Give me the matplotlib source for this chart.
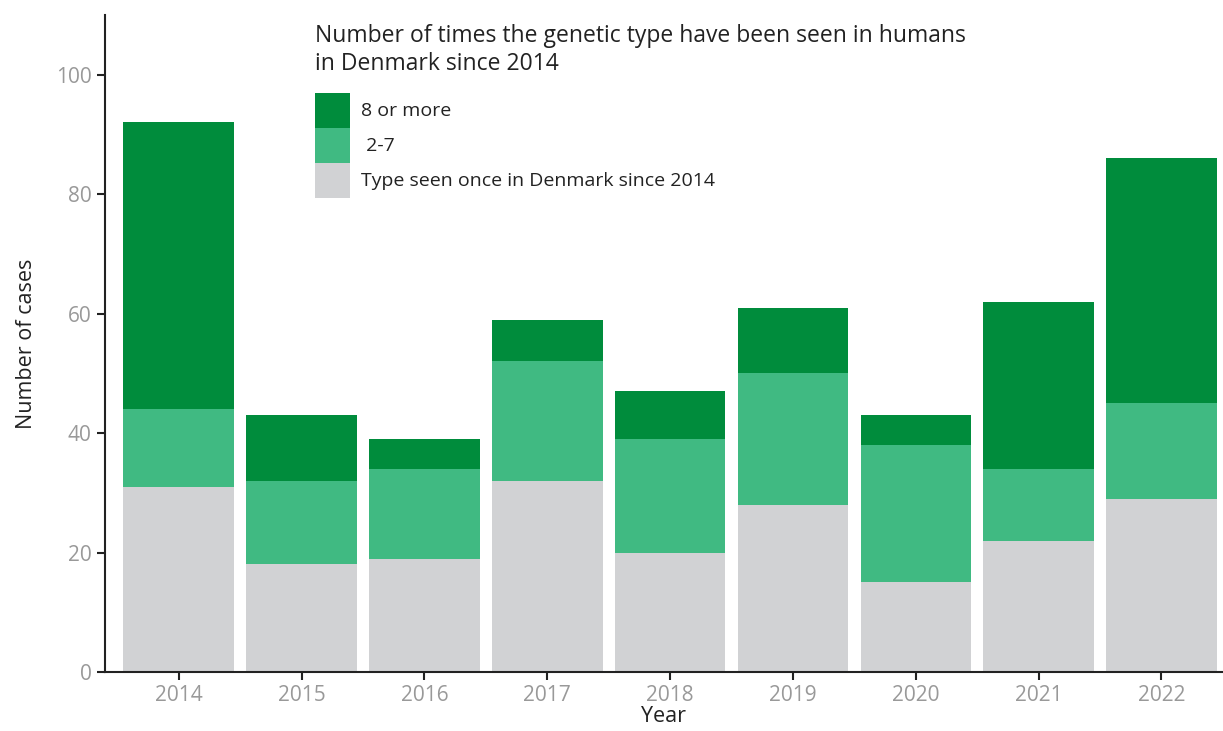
import matplotlib
matplotlib.use("Agg")
import matplotlib.pyplot as plt
import numpy as np

plt.rcParams['font.family'] = ['Open Sans', 'DejaVu Sans']

years = ['2014', '2015', '2016', '2017', '2018', '2019', '2020', '2021', '2022']
seen_once = [31, 18, 19, 32, 20, 28, 15, 22, 29]
seen_2_7 = [13, 14, 15, 20, 19, 22, 23, 12, 16]
seen_8_more = [48, 11, 5, 7, 8, 11, 5, 28, 41]

col_once = '#d1d2d4'
col_2_7 = '#40ba82'
col_8 = '#008c3c'

fig = plt.figure(figsize=(12.23, 7.31), dpi=100)
ax = fig.add_axes([0.0859, 0.0807, 0.913, 0.8988])

x = np.arange(len(years))
w = 0.9
b1 = ax.bar(x, seen_once, w, color=col_once, label='Type seen once in Denmark since 2014')
b2 = ax.bar(x, seen_2_7, w, bottom=seen_once, color=col_2_7, label=' 2-7')
bottom2 = np.array(seen_once) + np.array(seen_2_7)
b3 = ax.bar(x, seen_8_more, w, bottom=bottom2, color=col_8, label='8 or more')

ax.set_xlim(-0.6, 8.49)
ax.set_ylim(0, 110)
ax.set_yticks([0, 20, 40, 60, 80, 100])
ax.set_xticks(x)
ax.set_xticklabels(years)

for s in ['top', 'right']:
    ax.spines[s].set_visible(False)
for s in ['left', 'bottom']:
    ax.spines[s].set_color('#222222')
    ax.spines[s].set_linewidth(1.5)

ax.tick_params(axis='both', colors='#222222', labelcolor='#999999', labelsize=15,
               length=6, width=1.5)
ax.tick_params(axis='x', pad=3)
ax.set_ylabel('Number of cases', fontsize=15.5, color='#222222', labelpad=14)
ax.set_xlabel('Year', fontsize=15.5, color='#222222', labelpad=0)

# legend title drawn separately so the gap matches
fig.text(315 / 1223, 1 - 24 / 731,
         'Number of times the genetic type have been seen in humans\nin Denmark since 2014',
         fontsize=16.5, color='#222222', ha='left', va='top', linespacing=1.25)

fs = 14
leg = ax.legend(handles=[b3, b2, b1],
                loc='upper left', bbox_to_anchor=(315 / 1223, 1 - 93 / 731),
                bbox_transform=fig.transFigure, frameon=False,
                fontsize=fs, labelspacing=0.0,
                handlelength=1.8, handleheight=2.39, handletextpad=0.55,
                borderpad=0, borderaxespad=0)
for t in leg.get_texts():
    t.set_color('#222222')

fig.savefig('out.png', dpi=100)
